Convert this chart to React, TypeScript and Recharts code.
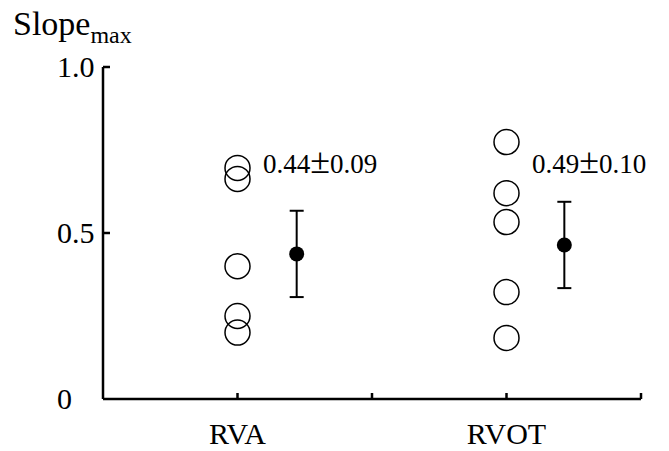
import { ScatterChart, Scatter, XAxis, YAxis, ErrorBar, ReferenceDot } from "recharts";

const categories = ["RVA", "RVOT"];
const categoryX = [1, 3];
const rvaValues = [0.696, 0.663, 0.4, 0.25, 0.2];
const rvotValues = [0.774, 0.62, 0.533, 0.322, 0.184];
const meanX = [1.44, 3.43];
const meanValues = [0.437, 0.464];
const errValues = [0.13, 0.13];
const annotationMeans = ["0.44", "0.49"];
const annotationSDs = ["0.09", "0.10"];
const annotationX = [1.19, 3.19];
const annotationY = [0.71, 0.71];
const xTicks = [1, 2, 3, 4];
const yTicks = [0, 0.5, 1];
const yTickLabels = ["0", "0.5", "1.0"];

const FONT = "'Liberation Serif', 'Times New Roman', serif";

const rvaData = rvaValues.map((y) => ({ x: categoryX[0], y }));
const rvotData = rvotValues.map((y) => ({ x: categoryX[1], y }));
const meanData = meanValues.map((y, i) => ({ x: meanX[i], y, err: errValues[i] }));

const OpenCircle = (p: any) => (
  <circle cx={p.cx} cy={p.cy} r={12.5} fill="none" stroke="#000" strokeWidth={1.5} />
);
const FilledCircle = (p: any) => <circle cx={p.cx} cy={p.cy} r={7.5} fill="#000" />;

function XTick({ x, y, payload }: any) {
  const idx = categoryX.indexOf(payload.value);
  return (
    <g>
      <line x1={x} y1={y} x2={x} y2={y - 6} stroke="#000" strokeWidth={2.5} />
      {idx >= 0 && (
        <text x={x} y={y + 45} textAnchor="middle" fontSize={30} fontFamily={FONT} fill="#000">
          {categories[idx]}
        </text>
      )}
    </g>
  );
}

function YTick({ x, y, payload }: any) {
  const idx = yTicks.indexOf(payload.value);
  return (
    <g>
      {payload.value > 0 && <line x1={x} y1={y} x2={x + 7} y2={y} stroke="#000" strokeWidth={2.5} />}
      <text x={x - 46} y={y} dy="0.33em" textAnchor="start" fontSize={30} fontFamily={FONT} fill="#000">
        {yTickLabels[idx]}
      </text>
    </g>
  );
}

const Title = () => (
  <text x={13} y={35} fontFamily={FONT} fill="#000">
    <tspan fontSize={34}>Slope</tspan>
    <tspan fontSize={24} dy={8}>max</tspan>
  </text>
);

export default function App() {
  return (
    <div style={{ position: "absolute", left: 0, top: 0, background: "#fff" }}>
      <ScatterChart width={669} height={451} margin={{ top: 67, right: 28, bottom: 0, left: 0 }}>
        <XAxis
          type="number"
          dataKey="x"
          domain={[0, 4]}
          ticks={xTicks}
          height={52}
          tickLine={false}
          tickSize={0}
          tickMargin={0}
          tick={<XTick />}
          axisLine={{ stroke: "#000", strokeWidth: 2.5 }}
        />
        <YAxis
          type="number"
          dataKey="y"
          domain={[0, 1]}
          ticks={yTicks}
          width={103}
          tickLine={false}
          tickSize={0}
          tickMargin={0}
          tick={<YTick />}
          axisLine={{ stroke: "#000", strokeWidth: 2.5 }}
          label={{ content: () => <Title /> }}
        />
        <Scatter data={rvaData} shape={OpenCircle} isAnimationActive={false} />
        <Scatter data={rvotData} shape={OpenCircle} isAnimationActive={false} />
        <Scatter data={meanData} shape={FilledCircle} isAnimationActive={false}>
          <ErrorBar dataKey="err" direction="y" width={7} stroke="#000" strokeWidth={2} />
        </Scatter>
        {annotationMeans.map((m, i) => (
          <ReferenceDot
            key={m}
            x={annotationX[i]}
            y={annotationY[i]}
            r={0}
            fill="none"
            stroke="none"
            ifOverflow="visible"
            label={{
              content: (p: any) => (
                <text
                  x={p.viewBox.x}
                  y={p.viewBox.y}
                  dy="0.35em"
                  textAnchor="start"
                  fontSize={27}
                  fontFamily={FONT}
                  fill="#000"
                >
                  {m}
                  <tspan fontSize={36}>±</tspan>
                  {annotationSDs[i]}
                </text>
              ),
            }}
          />
        ))}
      </ScatterChart>
    </div>
  );
}
